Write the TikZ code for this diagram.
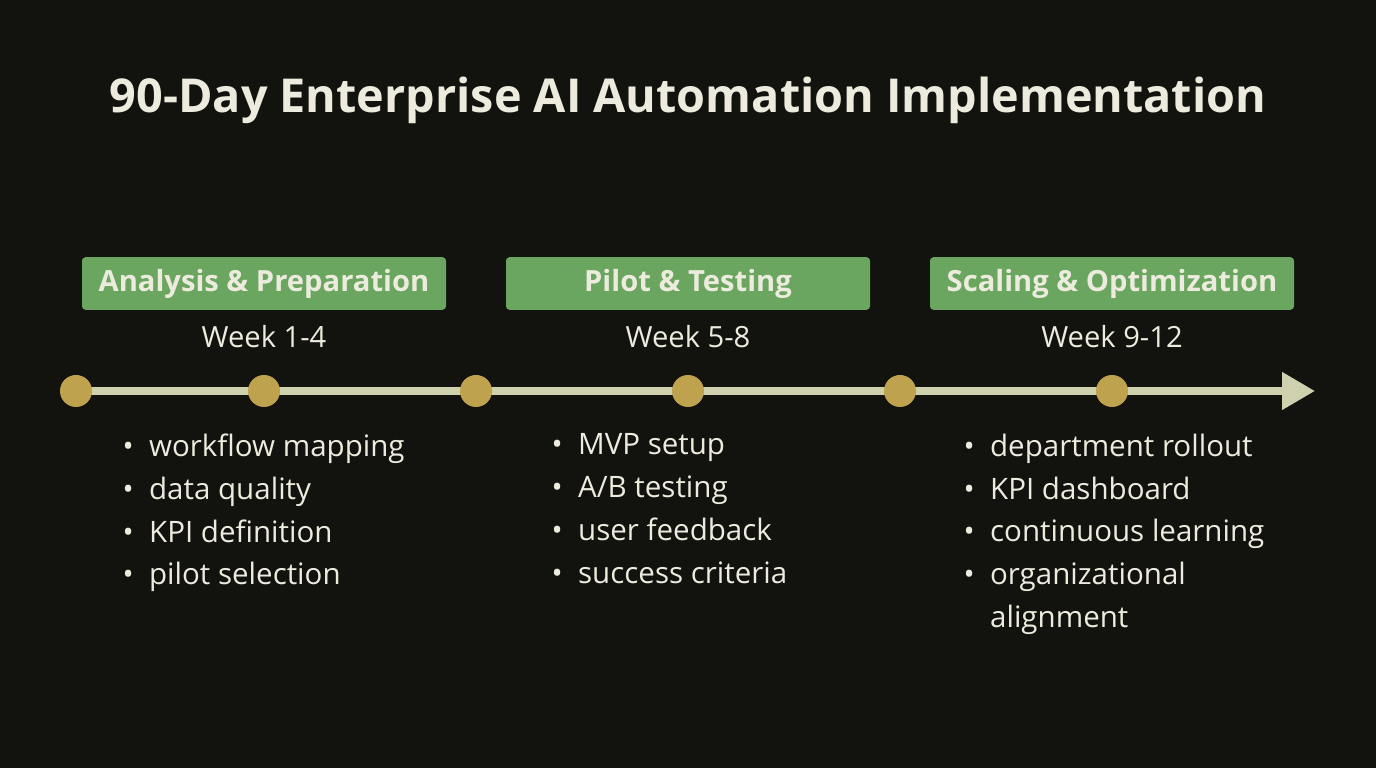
\documentclass[tikz,border=0pt]{standalone}
\usepackage{fontspec}
\setmainfont{Open Sans}
\usetikzlibrary{arrows.meta, positioning}
\definecolor{bgdark}{HTML}{12120E}
\definecolor{phasegreen}{HTML}{6AA660}
\definecolor{paletext}{HTML}{ECEBDD}
\definecolor{axisline}{HTML}{CFD0AE}
\definecolor{milestone}{HTML}{BFA24E}
\tikzstyle{phase} = [rectangle, rounded corners=1pt, fill=phasegreen, minimum width=3.64cm, minimum height=0.49cm, text=paletext, font=\fontsize{8.3}{10}\selectfont\bfseries]
\tikzstyle{week} = [text=paletext, font=\fontsize{8.3}{10}\selectfont]
\tikzstyle{tasks} = [anchor=north west, align=left, text=paletext, font=\fontsize{8.4}{12.2}\selectfont, inner sep=0pt]
\tikzstyle{dot} = [circle, fill=milestone, minimum size=0.32cm, inner sep=0pt]
\begin{document}
\begin{tikzpicture}
	\fill[bgdark] (0,0) rectangle (13.76,7.68);
	\useasboundingbox (0,0) rectangle (13.76,7.68);
	\node (Title) [text=paletext, font=\fontsize{13.3}{16}\selectfont\bfseries] at (6.88,6.68) {90-Day Enterprise AI Automation Implementation};
	\node (PhaseA) [phase] at (2.64,4.845) {Analysis \& Preparation};
	\node (PhaseB) [phase] at (6.88,4.845) {Pilot \& Testing};
	\node (PhaseC) [phase] at (11.12,4.845) {Scaling \& Optimization};
	\node (WeekA) [week] at (2.64,4.31) {Week 1-4};
	\node (WeekB) [week] at (6.88,4.31) {Week 5-8};
	\node (WeekC) [week] at (11.12,4.31) {Week 9-12};
	\coordinate (AxisStart) at (0.62,3.77);
	\coordinate (AxisEnd) at (13.15,3.77);
	\draw [axisline, line width=2.2pt, -{Triangle[length=0.33cm, width=0.36cm]}] (AxisStart) -- (AxisEnd);
	\foreach \x [count=\i] in {0.76,2.64,4.76,6.88,9.00,11.12}
		\node (Mile\i) [dot] at (\x,3.77) {};
	\node (TasksA) [tasks] at (1.22,3.35) {\textbullet\ \ workflow mapping\\ \textbullet\ \ data quality\\ \textbullet\ \ KPI definition\\ \textbullet\ \ pilot selection};
	\node (TasksB) [tasks] at (5.51,3.35) {\textbullet\ \ MVP setup\\ \textbullet\ \ A/B testing\\ \textbullet\ \ user feedback\\ \textbullet\ \ success criteria};
	\node (TasksC) [tasks] at (9.63,3.35) {\textbullet\ \ department rollout\\ \textbullet\ \ KPI dashboard\\ \textbullet\ \ continuous learning\\ \textbullet\ \ organizational\\ \phantom{\textbullet\ \ }alignment};
\end{tikzpicture}
\end{document}
